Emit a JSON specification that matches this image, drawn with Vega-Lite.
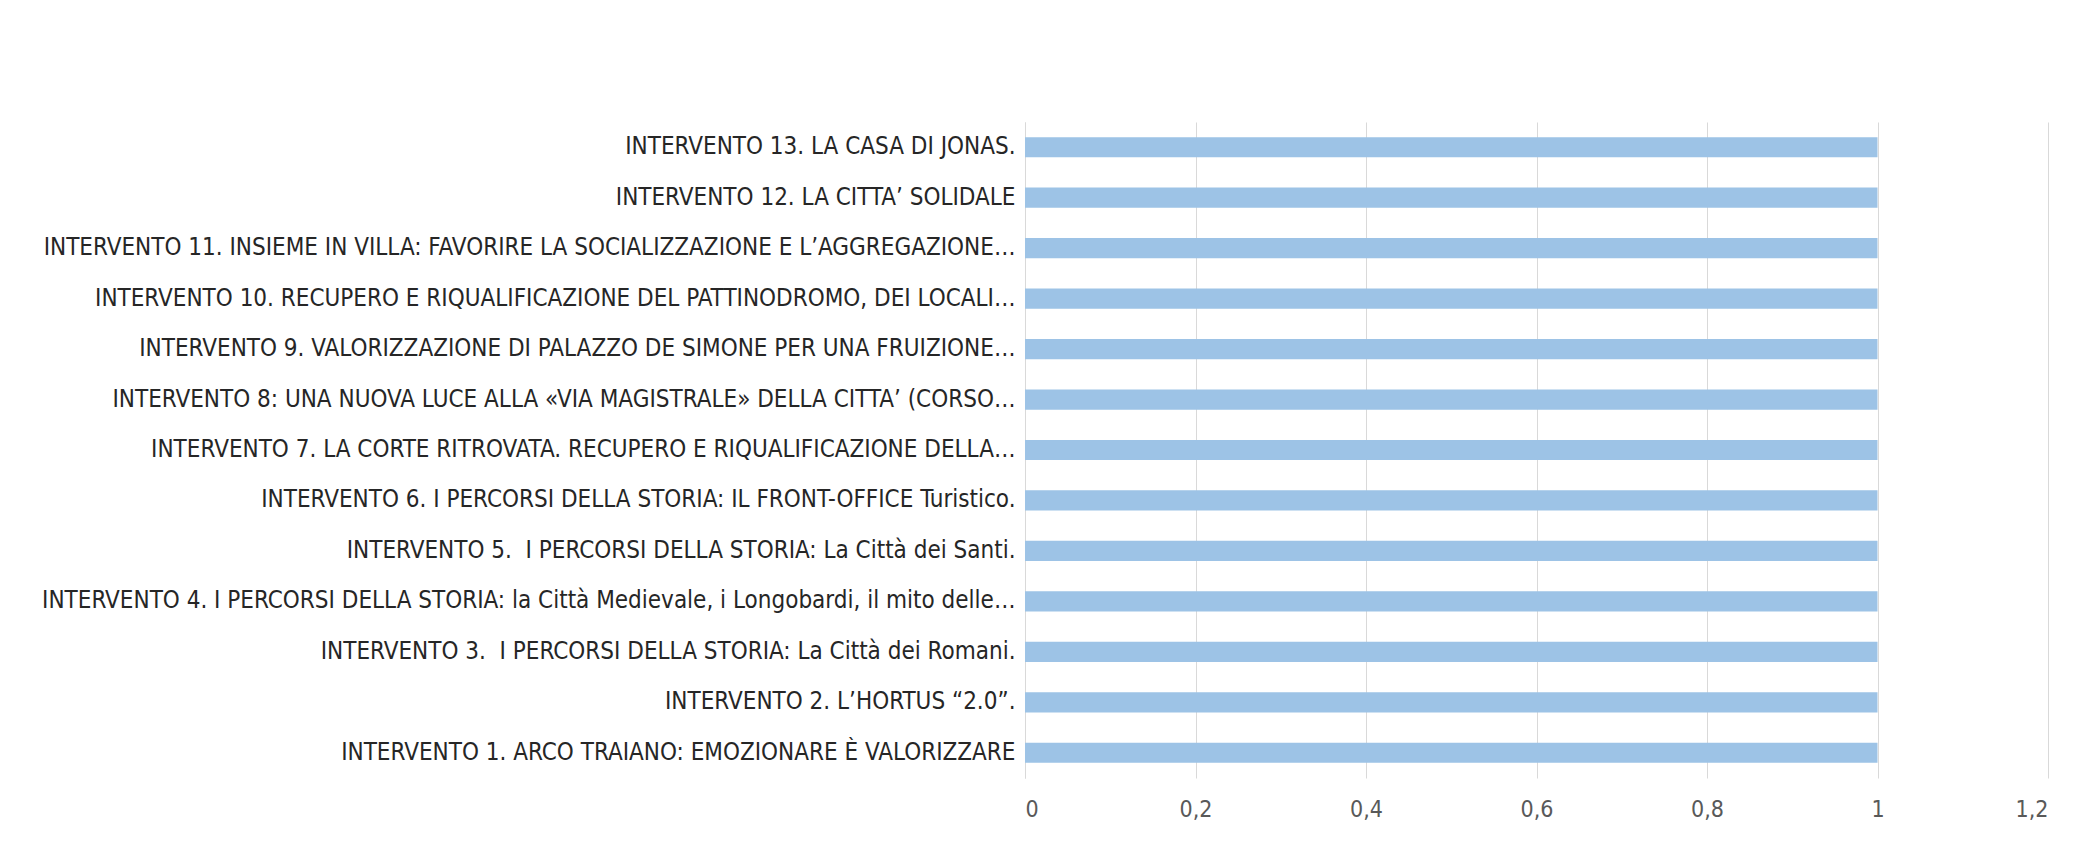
{
  "$schema": "https://vega.github.io/schema/vega-lite/v6.json",
  "width": 1023,
  "height": 656,
  "autosize": {"type": "none"},
  "padding": {"left": 1025, "top": 122, "right": 36, "bottom": 65},
  "background": "white",
  "config": {"view": {"stroke": null}, "font": "DejaVu Sans Condensed"},
  "data": {
    "values": [
      {"n": 13, "label": "INTERVENTO 13. LA CASA DI JONAS.", "value": 1},
      {"n": 12, "label": "INTERVENTO 12. LA CITTA’ SOLIDALE", "value": 1},
      {"n": 11, "label": "INTERVENTO 11. INSIEME IN VILLA: FAVORIRE LA SOCIALIZZAZIONE E L’AGGREGAZIONE…", "value": 1},
      {"n": 10, "label": "INTERVENTO 10. RECUPERO E RIQUALIFICAZIONE DEL PATTINODROMO, DEI LOCALI…", "value": 1},
      {"n": 9, "label": "INTERVENTO 9. VALORIZZAZIONE DI PALAZZO DE SIMONE PER UNA FRUIZIONE…", "value": 1},
      {"n": 8, "label": "INTERVENTO 8: UNA NUOVA LUCE ALLA «VIA MAGISTRALE» DELLA CITTA’ (CORSO…", "value": 1},
      {"n": 7, "label": "INTERVENTO 7. LA CORTE RITROVATA. RECUPERO E RIQUALIFICAZIONE DELLA…", "value": 1},
      {"n": 6, "label": "INTERVENTO 6. I PERCORSI DELLA STORIA: IL FRONT-OFFICE Turistico.", "value": 1},
      {"n": 5, "label": "INTERVENTO 5. \u00a0I PERCORSI DELLA STORIA: La Città dei Santi.", "value": 1},
      {"n": 4, "label": "INTERVENTO 4. I PERCORSI DELLA STORIA: la Città Medievale, i Longobardi, il mito delle…", "value": 1},
      {"n": 3, "label": "INTERVENTO 3. \u00a0I PERCORSI DELLA STORIA: La Città dei Romani.", "value": 1},
      {"n": 2, "label": "INTERVENTO 2. L’HORTUS “2.0”.", "value": 1},
      {"n": 1, "label": "INTERVENTO 1. ARCO TRAIANO: EMOZIONARE È VALORIZZARE", "value": 1}
    ]
  },
  "mark": {"type": "bar", "color": "#9dc3e6"},
  "encoding": {
    "y": {
      "field": "label",
      "type": "nominal",
      "sort": {"field": "n", "order": "descending"},
      "scale": {"paddingInner": 0.6, "paddingOuter": 0.3},
      "axis": {
        "title": null,
        "ticks": false,
        "domain": true,
        "domainColor": "#d9d9d9",
        "labelLimit": 0,
        "labelFontSize": 24,
        "labelColor": "#262626",
        "labelPadding": 10,
        "labelFont": "DejaVu Sans Condensed"
      }
    },
    "x": {
      "field": "value",
      "type": "quantitative",
      "scale": {"domain": [0, 1.2], "nice": false},
      "axis": {
        "title": null,
        "values": [0, 0.2, 0.4, 0.6, 0.8, 1, 1.2],
        "labelExpr": "replace(format(datum.value, '.1~f'), '.', ',')",
        "domain": false,
        "ticks": false,
        "grid": true,
        "gridColor": "#d9d9d9",
        "labelPadding": 20,
        "labelColor": "#595959",
        "labelFontSize": 23,
        "labelFont": "DejaVu Sans Condensed"
      }
    }
  }
}
